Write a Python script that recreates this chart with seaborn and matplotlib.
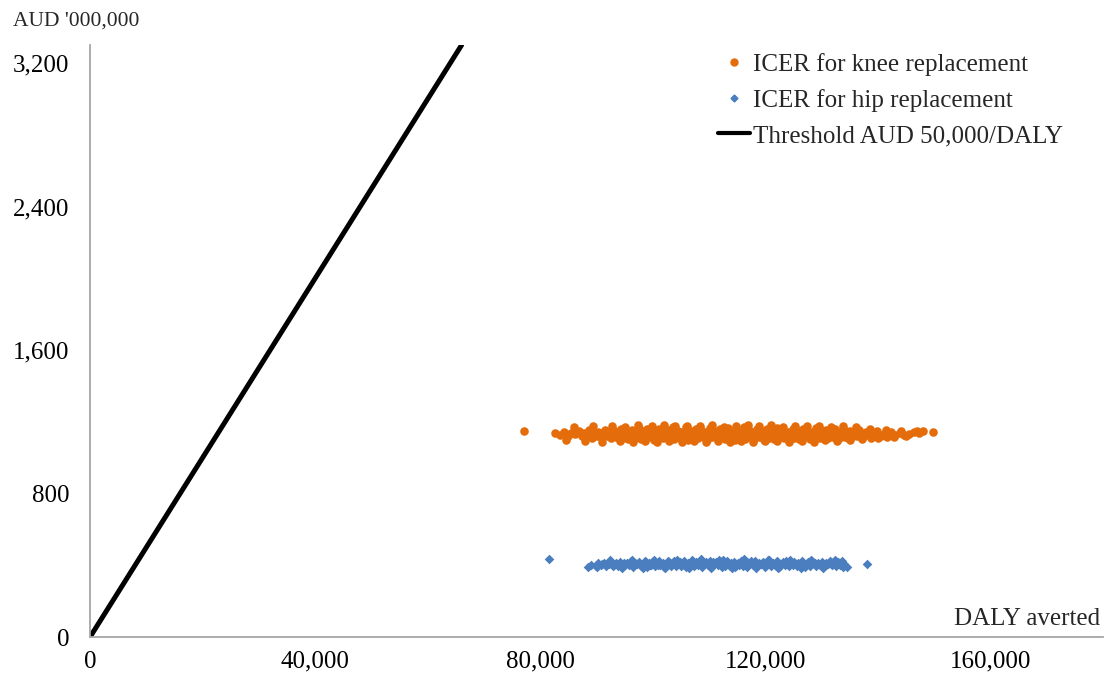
import matplotlib
matplotlib.use("Agg")
import matplotlib.pyplot as plt
import seaborn as sns
import pandas as pd
from matplotlib.lines import Line2D
from matplotlib.ticker import FuncFormatter

# ICER simulations, knee replacement: DALY averted, cost (AUD '000,000)
knee_daly = [
    77100, 82600, 83400, 84100, 84900, 85500, 86200, 86800, 87300, 87700,
    88200, 88600, 89100, 89500, 89900, 90300, 90700, 91000, 91400, 91800,
    92100, 92500, 92900, 93200, 93600, 93900, 94300, 94600, 94900, 95300,
    95600, 95900, 96200, 96600, 96900, 97200, 97500, 97800, 98100, 98400,
    98700, 99000, 99300, 99600, 99900, 100200, 100500, 100800, 101100, 101400,
    101700, 102000, 102300, 102600, 102900, 103200, 103500, 103800, 104100, 104400,
    104700, 105000, 105300, 105600, 105900, 106200, 106500, 106800, 107100, 107400,
    107700, 108000, 108300, 108600, 108900, 109200, 109500, 109800, 110100, 110400,
    110700, 111000, 111300, 111600, 111900, 112200, 112500, 112800, 113100, 113400,
    113700, 114000, 114300, 114600, 114900, 115200, 115500, 115800, 116100, 116400,
    116700, 117000, 117300, 117600, 117900, 118200, 118500, 118800, 119100, 119400,
    119700, 120000, 120300, 120600, 120900, 121200, 121500, 121800, 122100, 122400,
    122700, 123000, 123300, 123600, 123900, 124200, 124500, 124800, 125100, 125400,
    125700, 126000, 126300, 126600, 126900, 127200, 127500, 127800, 128100, 128400,
    128700, 129000, 129300, 129600, 129900, 130200, 130500, 130800, 131100, 131400,
    131700, 132000, 132300, 132600, 132900, 133200, 133500, 133800, 134100, 134400,
    134700, 135000, 135400, 135800, 136200, 136600, 137000, 137400, 137800, 138300,
    138800, 139300, 139800, 140400, 141000, 141600, 142200, 143000, 143800, 144600,
    145500, 146400, 147200, 149700,
    88900, 90000, 91200, 92300, 93400, 94500, 95700, 96800, 97900, 99100,
    100300, 101300, 102500, 103600, 104800, 105800, 106900, 108100, 109100, 110200,
    111200, 112300, 113300, 114400, 115400, 116500, 117500, 118600, 119600, 120700,
    121700, 122800, 123800, 124900, 125900, 127000, 128000, 129100, 130100, 131200,
    132200, 133300, 134300, 135500, 136500,
    84500, 86000, 87900, 89300, 90900, 92700, 94100, 95100, 96400, 97300,
    98600, 99800, 100700, 101900, 102800, 103900, 105100, 106100, 107200, 108400,
    109400, 110500, 111500, 112600, 113600, 114700, 115700, 116800, 117800, 118900,
    119900, 121000, 122000, 123100, 124100, 125300, 126400, 127400, 128500, 129500,
    130600, 131600, 132700, 133700, 134900, 136000, 137200, 138500, 140000, 141300,
    142800, 144000, 145000, 146800, 148000,
    89700, 93100, 96000, 98900, 101600, 104300, 107000, 109700, 112000, 114500,
    117200, 119800, 122300, 125000, 127600, 130300, 132800, 135200, 137600,
]
knee_cost = [
    1150, 1135, 1128, 1142, 1120, 1137, 1131, 1148, 1118, 1140,
    1126, 1152, 1110, 1135, 1124, 1145, 1116, 1132, 1155, 1122,
    1139, 1108, 1128, 1147, 1119, 1136, 1160, 1112, 1130, 1143,
    1101, 1125, 1152, 1117, 1138, 1129, 1165, 1106, 1141, 1121,
    1134, 1157, 1113, 1127, 1148, 1098, 1136, 1119, 1162, 1131,
    1109, 1145, 1124, 1153, 1115, 1139, 1168, 1104, 1128, 1150,
    1120, 1142, 1111, 1133, 1170, 1100, 1125, 1147, 1117, 1138,
    1160, 1107, 1131, 1152, 1122, 1143, 1096, 1135, 1166, 1114,
    1129, 1149, 1109, 1137, 1158, 1119, 1140, 1103, 1127, 1163,
    1115, 1134, 1151, 1098, 1124, 1145, 1112, 1136, 1168, 1106,
    1130, 1154, 1118, 1141, 1101, 1126, 1161, 1113, 1137, 1149,
    1097, 1132, 1157, 1110, 1128, 1146, 1104, 1139, 1165, 1116,
    1123, 1152, 1108, 1135, 1144, 1099, 1130, 1159, 1112, 1127,
    1148, 1105, 1138, 1162, 1118, 1133, 1150, 1102, 1125, 1143,
    1114, 1166, 1131, 1108, 1147, 1121, 1139, 1156, 1111, 1134,
    1145, 1117, 1160, 1128, 1106, 1141, 1124, 1153, 1115, 1136,
    1110, 1147, 1127, 1140, 1118, 1155, 1131, 1122, 1144, 1129,
    1112, 1138, 1150, 1123, 1134, 1116, 1141, 1128, 1137, 1124,
    1132, 1142, 1139, 1145,
    1138, 1121, 1144, 1131, 1115, 1150, 1134, 1109, 1147, 1124,
    1140, 1118, 1133, 1155, 1110, 1137, 1125, 1164, 1116, 1139,
    1123, 1148, 1107, 1140, 1129, 1152, 1111, 1135, 1121, 1142,
    1117, 1155, 1126, 1137, 1113, 1146, 1133, 1120, 1151, 1124,
    1138, 1113, 1147, 1119, 1137,
    1098, 1170, 1092, 1175, 1088, 1178, 1090, 1172, 1086, 1180,
    1094, 1176, 1089, 1182, 1091, 1174, 1087, 1179, 1093, 1177,
    1085, 1181, 1095, 1173, 1088, 1178, 1092, 1183, 1086, 1175,
    1090, 1180, 1094, 1171, 1087, 1177, 1093, 1174, 1089, 1179,
    1096, 1170, 1091, 1176, 1099, 1168, 1102, 1160, 1108, 1155,
    1117, 1150, 1121, 1148, 1146,
    1130, 1126, 1141, 1133, 1127, 1140, 1129, 1145, 1132, 1126,
    1143, 1130, 1136, 1125, 1141, 1131, 1127, 1134, 1131,
]

# ICER simulations, hip replacement
hip_daly = [
    81500, 88400, 89000, 89800, 90300, 90800, 91300, 91700, 92200, 92600,
    93000, 93400, 93800, 94200, 94600, 95000, 95300, 95700, 96100, 96400,
    96800, 97100, 97500, 97800, 98200, 98500, 98900, 99200, 99600, 99900,
    100300, 100600, 101000, 101300, 101700, 102000, 102400, 102700, 103100, 103400,
    103800, 104100, 104500, 104800, 105200, 105500, 105900, 106200, 106600, 106900,
    107300, 107600, 108000, 108300, 108700, 109000, 109400, 109700, 110100, 110400,
    110800, 111100, 111500, 111800, 112200, 112500, 112900, 113200, 113600, 113900,
    114300, 114600, 115000, 115300, 115700, 116000, 116400, 116700, 117100, 117400,
    117800, 118100, 118500, 118800, 119200, 119500, 119900, 120200, 120600, 120900,
    121300, 121600, 122000, 122300, 122700, 123000, 123400, 123700, 124100, 124400,
    124800, 125100, 125500, 125800, 126200, 126500, 126900, 127200, 127600, 127900,
    128300, 128600, 129000, 129300, 129700, 130000, 130400, 130700, 131100, 131400,
    131800, 132100, 132500, 132800, 133200, 133500, 133900, 134400, 138000,
    91000, 92900, 94900, 96600, 98700, 100800, 102900, 104900, 106800, 108800,
    110600, 112700, 114800, 116600, 118600, 120800, 122500, 124600, 126700, 128800,
    130800, 132600, 99400, 103600, 107900, 111900, 115900, 119700, 123900, 127800,
    131600,
    90100, 92400, 94400, 96300, 98300, 100100, 102200, 104300, 106400, 108500,
    110300, 112400, 114100, 116200, 118300, 120400, 122200, 124300, 126300, 128100,
    130200, 132300, 133700,
]
hip_cost = [
    433, 389, 401, 396, 410, 404, 415, 398, 409, 418,
    401, 412, 395, 420, 406, 399, 414, 402, 423, 393,
    411, 405, 419, 397, 408, 425, 391, 413, 403, 418,
    396, 410, 424, 400, 415, 389, 407, 421, 398, 412,
    426, 394, 409, 417, 401, 423, 392, 413, 405, 428,
    397, 416, 403, 421, 390, 411, 419, 399, 425, 394,
    408, 418, 402, 427, 393, 414, 406, 422, 396, 410,
    420, 391, 412, 404, 424, 398, 415, 392, 409, 421,
    400, 426, 395, 413, 405, 419, 390, 411, 428, 397,
    414, 403, 422, 393, 408, 417, 399, 424, 394, 410,
    404, 420, 396, 413, 401, 423, 392, 409, 416, 398,
    421, 405, 395, 414, 402, 419, 397, 410, 406, 423,
    400, 413, 395, 417, 404, 425, 409, 389, 405,
    407, 395, 412, 400, 416, 404, 418, 396, 410, 402,
    416, 398, 407, 419, 401, 412, 397, 415, 403, 411,
    399, 408, 400, 405, 409, 406, 403, 408, 406, 409,
    407,
    392, 427, 386, 430, 384, 432, 386, 431, 383, 433,
    385, 430, 382, 434, 386, 431, 384, 429, 385, 432,
    387, 428, 391,
]

# threshold AUD 50,000 per DALY
threshold_daly = [0, 66000]
threshold_cost = [0, 3300]

x_ticks = [0, 40000, 80000, 120000, 160000]
y_ticks = [0, 800, 1600, 2400, 3200]

knee_df = pd.DataFrame({"daly": knee_daly, "cost": knee_cost})
hip_df = pd.DataFrame({"daly": hip_daly, "cost": hip_cost})
thr_df = pd.DataFrame({"daly": threshold_daly, "cost": threshold_cost})

sns.set_style("white")
plt.rcParams["font.family"] = ["Liberation Serif", "DejaVu Serif"]

orange = "#E46C0A"
blue = "#4A7EBF"
grey = "#A6A6A6"

fig = plt.figure(figsize=(11.09, 6.88), dpi=100)
ax = fig.add_axes([0.0812, 0.0741, 0.9138, 0.8605])

sns.lineplot(data=thr_df, x="daly", y="cost", color="black", linewidth=3.6, ax=ax)
sns.scatterplot(data=knee_df, x="daly", y="cost", color=orange, marker="o",
                s=38, linewidth=0, ax=ax)
sns.scatterplot(data=hip_df, x="daly", y="cost", color=blue, marker="D",
                s=24, linewidth=0, ax=ax)

ax.set_xlim(0, 180000)
ax.set_ylim(0, 3300)
ax.set_xticks(x_ticks)
ax.set_yticks(y_ticks)
ax.xaxis.set_major_formatter(FuncFormatter(lambda v, p: f"{int(v):,}"))
ax.yaxis.set_major_formatter(FuncFormatter(lambda v, p: f"{int(v):,}"))
ax.set_xlabel("")
ax.set_ylabel("")
ax.tick_params(axis="both", direction="out", length=5, width=1, color=grey,
               labelsize=18, labelcolor="black")
ax.tick_params(axis="x", pad=5)
ax.tick_params(axis="y", pad=10)

for side in ["top", "right"]:
    ax.spines[side].set_visible(False)
for side in ["left", "bottom"]:
    ax.spines[side].set_color(grey)
    ax.spines[side].set_linewidth(1.3)

fig.text(0.012, 0.97, "AUD '000,000", fontsize=15.5, ha="left", va="center")
fig.text(0.992, 0.1, "DALY averted", fontsize=18, ha="right", va="center")

handles = [
    Line2D([], [], color=orange, marker="o", linestyle="none", markersize=5),
    Line2D([], [], color=blue, marker="D", linestyle="none", markersize=3.5),
    Line2D([], [], color="black", linewidth=3),
]
labels = ["ICER for knee replacement", "ICER for hip replacement",
          "Threshold AUD 50,000/DALY"]
ax.legend(handles, labels, loc="upper left", bbox_to_anchor=(0.638, 0.938),
          bbox_transform=fig.transFigure, frameon=False, fontsize=18,
          handlelength=1.3, handletextpad=0.1, labelspacing=0.52,
          borderaxespad=0)

fig.savefig("out.png", dpi=100)
plt.close(fig)
